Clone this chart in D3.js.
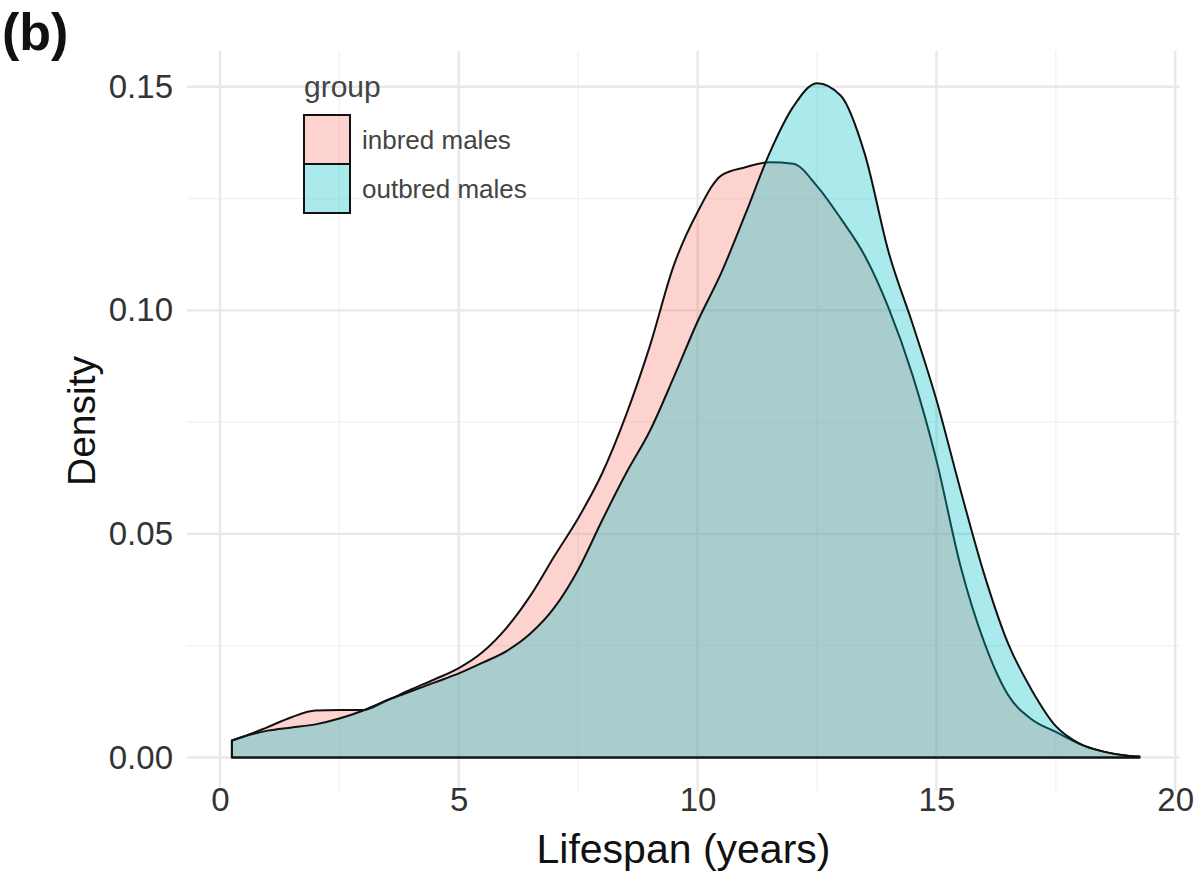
<!DOCTYPE html>
<html>
<head>
<meta charset="utf-8">
<script src="https://cdn.jsdelivr.net/npm/d3@7"></script>
<style>
  html, body { margin: 0; padding: 0; background: #fff; }
  svg { display: block; font-family: "Liberation Sans", Arial, sans-serif; }
</style>
</head>
<body>
<svg id="chart" width="1194" height="890"></svg>
<script>
// Kernel density estimates of lifespan, sampled on a shared grid (years)
const lifespan = [0.25, 0.5, 1, 1.5, 2, 2.5, 3, 3.5, 4, 4.5, 5, 5.5, 6, 6.5, 7, 7.5, 8, 8.5, 9, 9.5,
                  10, 10.5, 11, 11.5, 12, 12.5, 13, 13.5, 14, 14.5, 15, 15.5, 16, 16.5, 17, 17.5, 18, 18.5, 19, 19.25];

const inbredDensity = [0.0038, 0.0047, 0.0068, 0.0090, 0.0105, 0.0106, 0.0106, 0.0128, 0.0152, 0.0175,
                       0.0200, 0.0236, 0.0290, 0.0362, 0.0450, 0.0535, 0.0635, 0.0765, 0.0920, 0.1100,
                       0.1220, 0.1302, 0.1320, 0.1331, 0.1328, 0.1278, 0.1205, 0.1122, 0.1005, 0.0855,
                       0.0665, 0.0430, 0.0258, 0.0140, 0.0085, 0.0057, 0.0030, 0.0013, 0.0004, 0.0002];

const outbredDensity = [0.0038, 0.0047, 0.0060, 0.0067, 0.0074, 0.0087, 0.0105, 0.0128, 0.0148, 0.0168,
                        0.0188, 0.0212, 0.0238, 0.0277, 0.0335, 0.0420, 0.0530, 0.0635, 0.0730, 0.0850,
                        0.0975, 0.1085, 0.1215, 0.1350, 0.1455, 0.1508, 0.1480, 0.1350, 0.1130, 0.0970,
                        0.0800, 0.0600, 0.0410, 0.0255, 0.0150, 0.0070, 0.0031, 0.0013, 0.0004, 0.0002];

const groups = ["inbred males", "outbred males"];
const groupFill = ["rgba(248,118,109,0.32)", "rgba(0,191,196,0.33)"];

const xTicks = [0, 5, 10, 15, 20];
const xMinor = [2.5, 7.5, 12.5, 17.5];
const yTicks = [0, 0.05, 0.10, 0.15];
const yMinor = [0.025, 0.075, 0.125];

const svg = d3.select("#chart");

// Panel geometry
const panel = { left: 187, right: 1180, top: 51, bottom: 791 };

const x = d3.scaleLinear().domain([-0.69, 20.1]).range([panel.left, panel.right]);
const y = d3.scaleLinear().domain([-0.0075, 0.158]).range([panel.bottom, panel.top]);

// Grid lines (minor first, then major)
const grid = svg.append("g");
grid.selectAll(".xminor").data(xMinor).join("line")
  .attr("x1", d => x(d)).attr("x2", d => x(d))
  .attr("y1", panel.top).attr("y2", panel.bottom)
  .attr("stroke", "#f1f1f1").attr("stroke-width", 1.3);
grid.selectAll(".yminor").data(yMinor).join("line")
  .attr("y1", d => y(d)).attr("y2", d => y(d))
  .attr("x1", panel.left).attr("x2", panel.right)
  .attr("stroke", "#f1f1f1").attr("stroke-width", 1.3);
grid.selectAll(".xmajor").data(xTicks).join("line")
  .attr("x1", d => x(d)).attr("x2", d => x(d))
  .attr("y1", panel.top).attr("y2", panel.bottom)
  .attr("stroke", "#e8e8e8").attr("stroke-width", 2.4);
grid.selectAll(".ymajor").data(yTicks).join("line")
  .attr("y1", d => y(d)).attr("y2", d => y(d))
  .attr("x1", panel.left).attr("x2", panel.right)
  .attr("stroke", "#e8e8e8").attr("stroke-width", 2.4);

// Density areas
const area = d3.area()
  .x(d => x(d[0]))
  .y0(y(0))
  .y1(d => y(d[1]))
  .curve(d3.curveMonotoneX);

const series = [inbredDensity, outbredDensity];
series.forEach((vals, i) => {
  const pts = lifespan.map((v, k) => [v, vals[k]]);
  svg.append("path")
    .datum(pts)
    .attr("d", area)
    .attr("fill", groupFill[i])
    .attr("stroke", "#111")
    .attr("stroke-width", 2)
    .attr("stroke-linejoin", "round");
});

// Axes (text only, minimal theme)
const xAxis = d3.axisBottom(x).tickValues(xTicks).tickSize(0).tickPadding(0).tickFormat(d3.format("d"));
const gx = svg.append("g").attr("transform", `translate(0,${panel.bottom - 3})`).call(xAxis);
gx.select(".domain").remove();
gx.selectAll("text").attr("font-size", 33).attr("fill", "#333").attr("dy", "0.71em")
  .attr("font-family", "Liberation Sans, Arial, sans-serif");

const yAxis = d3.axisLeft(y).tickValues(yTicks).tickSize(0).tickPadding(0).tickFormat(d3.format(".2f"));
const gy = svg.append("g").attr("transform", `translate(${panel.left - 14},0)`).call(yAxis);
gy.select(".domain").remove();
gy.selectAll("text").attr("font-size", 33).attr("fill", "#333")
  .attr("font-family", "Liberation Sans, Arial, sans-serif");

// Axis titles
svg.append("text")
  .attr("x", (panel.left + panel.right) / 2)
  .attr("y", 863)
  .attr("text-anchor", "middle")
  .attr("font-size", 41)
  .attr("fill", "#111")
  .text("Lifespan (years)");

svg.append("text")
  .attr("transform", `translate(95,${(panel.top + panel.bottom) / 2}) rotate(-90)`)
  .attr("text-anchor", "middle")
  .attr("font-size", 39)
  .attr("fill", "#111")
  .text("Density");

// Panel tag
svg.append("text")
  .attr("x", 2).attr("y", 50)
  .attr("font-size", 52)
  .attr("font-weight", "bold")
  .attr("fill", "#111")
  .text("(b)");

// Legend
const legend = svg.append("g").attr("transform", "translate(304,0)");
legend.append("text")
  .attr("x", 0).attr("y", 97)
  .attr("font-size", 30)
  .attr("fill", "#444")
  .text("group");
groups.forEach((g, i) => {
  const top = 115 + i * 49;
  legend.append("rect")
    .attr("x", 0).attr("y", top)
    .attr("width", 46).attr("height", 49)
    .attr("fill", groupFill[i])
    .attr("stroke", "#111")
    .attr("stroke-width", 2);
  legend.append("text")
    .attr("x", 58).attr("y", top + 25)
    .attr("dy", "0.35em")
    .attr("font-size", 26)
    .attr("fill", "#444")
    .text(g);
});
</script>
</body>
</html>
